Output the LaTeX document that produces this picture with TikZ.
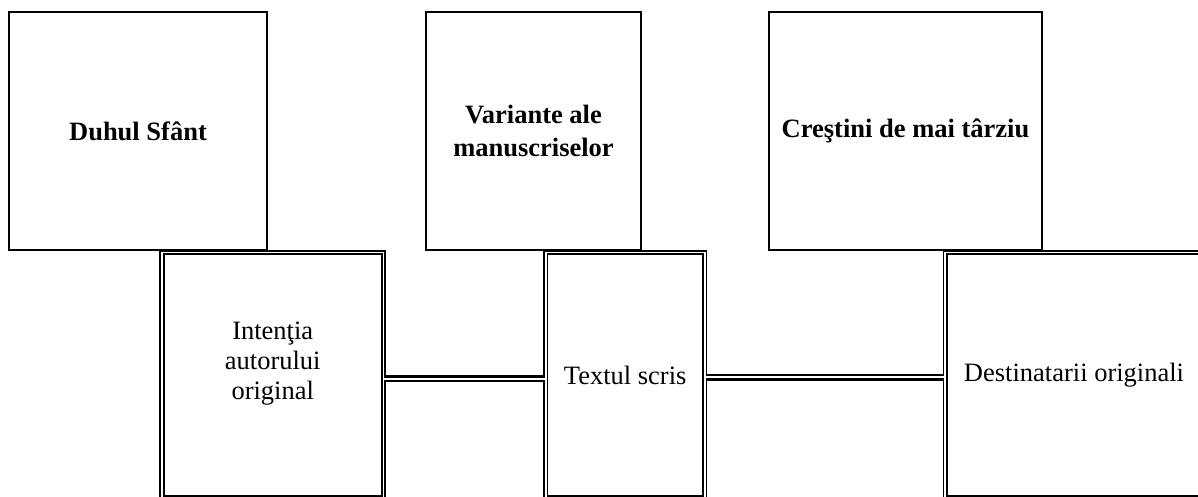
\documentclass[tikz,border=0pt]{standalone}
\usepackage{fontspec}
\setmainfont{Liberation Serif}

\begin{document}
\begin{tikzpicture}[x=0.5pt,y=-0.5pt,
                    font=\fontsize{13.25}{15}\selectfont]
  \tikzstyle{upper}=[draw=black,line width=1pt,align=center,
                     font=\fontsize{13.25}{16.5}\selectfont\bfseries]
  \tikzstyle{lower}=[draw=black,fill=white,double,line width=0.9pt,
                     double distance=0.8pt,align=center]
  \tikzstyle{link}=[draw=black,double,line width=1.2pt,double distance=1pt]

  \useasboundingbox (0,0) rectangle (1198,497);
  \clip (0,0) rectangle (1198,497);

  \node[upper,minimum width=129pt,minimum height=119pt] (spirit) at (138,131)
    {Duhul Sfânt};
  \node[upper,minimum width=107.25pt,minimum height=119pt] (variants) at (533.5,131)
    {Variante ale\\manuscriselor};
  \node[upper,minimum width=136.5pt,minimum height=119pt] (later) at (905.5,131)
    {Creştini de mai târziu};

  \node[lower,minimum width=110.75pt,minimum height=122.75pt] (intent) at (272.75,375.25)
    {Intenţia\\autorului\\original\\~};
  \node[lower,minimum width=79.5pt,minimum height=122.75pt] (written) at (625.2,375.25)
    {Textul scris};
  \node[lower,minimum width=128.85pt,minimum height=122.75pt] (readers) at (1074,375.25)
    {Destinatarii originali};

  \path[link] ([yshift=-1.75pt]intent.east) -- ([yshift=-1.75pt]written.west);
  \path[link] ([yshift=-1pt]written.east) -- ([yshift=-1pt]readers.west);
\end{tikzpicture}
\end{document}
